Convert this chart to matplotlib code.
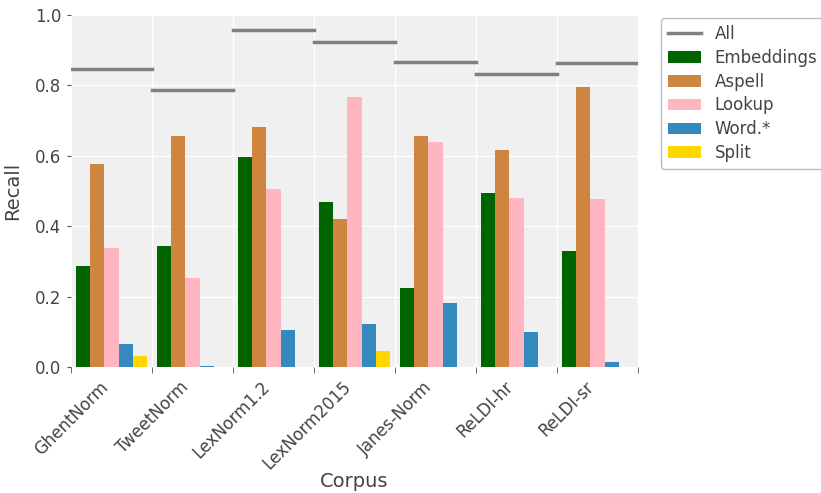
import numpy as np
import matplotlib.pyplot as plt

# corpora and recall per normalisation module
corpora = ['GhentNorm', 'TweetNorm', 'LexNorm1.2', 'LexNorm2015',
           'Janes-Norm', 'ReLDI-hr', 'ReLDI-sr']
all_recall = [0.848, 0.788, 0.958, 0.923, 0.866, 0.832, 0.865]
embeddings = [0.287, 0.343, 0.596, 0.468, 0.224, 0.494, 0.329]
aspell = [0.576, 0.656, 0.681, 0.420, 0.656, 0.616, 0.795]
lookup = [0.338, 0.253, 0.505, 0.766, 0.639, 0.480, 0.477]
word = [0.065, 0.002, 0.105, 0.122, 0.182, 0.099, 0.014]
split = [0.031, 0.001, 0.001, 0.045, 0.001, 0.001, 0.001]

series = [('Embeddings', embeddings, '#006400'),
          ('Aspell', aspell, '#CD853F'),
          ('Lookup', lookup, '#FFB6C1'),
          ('Word.*', word, '#348ABD'),
          ('Split', split, '#FFD700')]

txt = '#444444'
fig = plt.figure(figsize=(8.21, 4.93), dpi=100)
ax = fig.add_axes([71 / 821, 1 - 367 / 493, 567 / 821, 352 / 493])
ax.set_facecolor('#f0f0f0')
for s in ax.spines.values():
    s.set_visible(False)

x = np.arange(len(corpora))
w = 0.173

# "All" line over each group
for i, v in enumerate(all_recall):
    ax.plot([i - 0.5, i + 0.5], [v, v], color='#808080', lw=2.5,
            label='All' if i == 0 else None, zorder=3)

for k, (name, vals, col) in enumerate(series):
    ax.bar(x + (k - 2) * w, vals, width=w, color=col, label=name, zorder=2)

ax.set_xlim(-0.5, len(corpora) - 0.5)
ax.set_ylim(0, 1.0)
ax.set_xticks(x)
ax.set_xticklabels(corpora, rotation=45, ha='right', fontsize=12, color=txt)
ax.set_xticks(np.arange(-0.5, len(corpora)), minor=True)
ax.tick_params(axis='x', which='major', length=0, pad=8)
ax.tick_params(axis='x', which='minor', length=4, color='#555555')
ax.set_yticks(np.arange(0, 1.01, 0.2))
ax.set_yticklabels([f'{t:.1f}' for t in np.arange(0, 1.01, 0.2)],
                   fontsize=12, color=txt)
ax.tick_params(axis='y', length=3, color='#555555', pad=4)
ax.grid(axis='y', color='white', lw=1, zorder=0)
ax.grid(axis='x', which='minor', color='white', lw=1, zorder=0)
ax.set_axisbelow(True)

ax.set_xlabel('Corpus', fontsize=14, color=txt, va='center')
ax.xaxis.set_label_coords(0.5, -0.325)
ax.set_ylabel('Recall', fontsize=14, color=txt, labelpad=9)

leg = ax.legend(loc='upper left', bbox_to_anchor=(1.035, 1.0), borderaxespad=0.2,
                fontsize=12, frameon=True, fancybox=True, edgecolor='#aaaaaa',
                handlelength=2.0, labelspacing=0.35)
for t in leg.get_texts():
    t.set_color(txt)

fig.savefig('out.png', dpi=100)
